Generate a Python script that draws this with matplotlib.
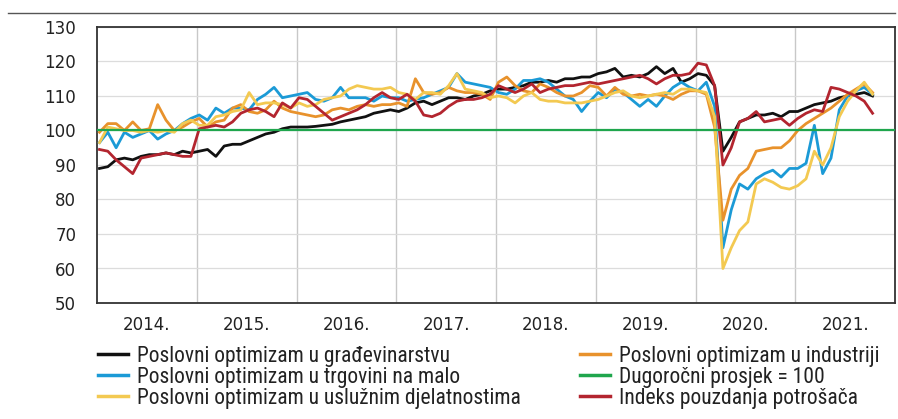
import numpy as np
import matplotlib
matplotlib.use("Agg")
import matplotlib.pyplot as plt
from matplotlib.lines import Line2D

plt.rcParams["font.family"] = ["DejaVu Sans"]

# ---------------- data (monthly, Jan 2014 - Oct 2021) ----------------
start_year = 2014
years = [2014, 2015, 2016, 2017, 2018, 2019, 2020, 2021]
year_labels = ["2014.", "2015.", "2016.", "2017.", "2018.", "2019.", "2020.", "2021."]

gradevinarstvo = [
    89, 89.5, 91.5, 92, 91.5, 92.5, 93, 93, 93.5, 93, 94, 93.5,
    94, 94.5, 92.5, 95.5, 96, 96, 97, 98, 99, 99.5, 100.5, 101,
    101, 101, 101.2, 101.5, 101.8, 102.5, 103, 103.5, 104, 105, 105.5, 106,
    105.5, 106.5, 108, 108.5, 107.5, 108.5, 109.5, 109.5, 109, 110, 110.5, 111.5,
    112, 112, 112.5, 113, 114, 114, 114.5, 114, 115, 115, 115.5, 115.5,
    116.5, 117, 118, 115.5, 116, 115.5, 116.5, 118.5, 116.5, 118, 114, 115,
    116.5, 116, 113, 94, 98, 102.5, 103.5, 104.5, 104.5, 105, 104, 105.5,
    105.5, 106.5, 107.5, 108, 108.5, 109.5, 110, 110.5, 111, 110,
]
industrija = [
    99.5, 102, 102, 100, 102.5, 100, 100.5, 107.5, 103, 100, 101, 102.5,
    103.5, 101, 102.5, 103, 106.5, 107.5, 105.5, 105, 106, 108.5, 106.5, 105.5,
    105, 104.5, 104, 104.5, 106, 106.5, 106, 107, 107.5, 107, 107.5, 107.5,
    108, 107, 115, 111, 110.5, 111, 112.5, 111.5, 111, 111, 110.5, 109,
    114, 115.5, 113, 111.5, 111, 113.5, 112.5, 111, 110, 110, 111, 113,
    112.5, 110, 112.5, 110.5, 110, 110.5, 110, 110.5, 110, 109, 110.5, 111.5,
    111.5, 110.5, 101, 74, 83, 87, 89, 94, 94.5, 95, 95, 97,
    100, 102, 103.5, 105, 106.5, 108.5, 110.5, 112, 113.5, 111,
]
trgovina = [
    96.5, 99.5, 95, 99.5, 98, 99, 100, 97.5, 99, 100, 102, 103.5,
    104.5, 103, 106.5, 105, 106.5, 106.5, 106, 109, 110.5, 112.5, 109.5, 110,
    110.5, 111, 109, 108.5, 109.5, 112.5, 109.5, 109.5, 109.5, 108.5, 110, 109.5,
    109.5, 108.5, 109, 109.5, 110.5, 111.5, 112.5, 116.5, 114, 113.5, 113, 112.5,
    111, 110.5, 112, 114.5, 114.5, 115, 114, 112, 110, 109, 105.5, 108.5,
    111, 109.5, 112, 111, 109, 107, 109, 107, 110, 112.5, 114, 112.5,
    111.5, 114, 107, 66, 77, 84.5, 83, 86, 87.5, 88.5, 86.5, 89,
    89, 90.5, 101.5, 87.5, 92, 106, 110, 111.5, 112.5, 110.5,
]
usluge = [
    96.5, 101, 100.5, 100, 100, 99.5, 100, 99.5, 100, 99.5, 102, 103,
    101.5, 101.5, 104, 104.5, 105.5, 106, 111, 107.5, 108, 108, 107.5, 106.5,
    108, 107, 107.5, 109, 109.5, 110, 112, 113, 112.5, 112, 112, 112.5,
    111, 110.5, 109, 111, 111, 110.5, 113, 116.5, 112, 111.5, 111, 109.5,
    110, 109.5, 108, 110, 111, 109, 108.5, 108.5, 108, 108, 108, 108.5,
    109, 110, 111, 111.5, 110, 109.5, 110, 110.5, 111, 110.5, 112, 112,
    111.5, 111, 104, 60, 66, 71, 73.5, 84.5, 86, 85, 83.5, 83,
    84, 86, 94, 90, 95, 104, 108.5, 111.5, 114, 110.5,
]
potrosaci = [
    94.5, 94, 91.5, 89.5, 87.5, 92, 92.5, 93, 93.5, 93, 92.5, 92.5,
    100.5, 101, 101.5, 101, 102.5, 105, 106, 106.5, 105.5, 104, 108, 106.5,
    109.5, 109, 107, 105, 103, 104, 105, 106, 107.5, 109.5, 111, 109.5,
    109, 110.5, 108.5, 104.5, 104, 105, 107, 108.5, 109, 109, 109.5, 110.5,
    113, 112, 111, 112, 113.5, 111, 112, 112.5, 113, 113, 113.5, 114,
    113.5, 114, 114.5, 115, 115.5, 116, 115, 113.5, 115, 116, 116, 116.5,
    119.5, 119, 113, 90, 95, 102.5, 103.5, 105.5, 102.5, 103, 103.5, 101.5,
    103.5, 105, 106, 105.5, 112.5, 112, 111, 110, 108.5, 105,
]
prosjek = 100

labels = [
    "Poslovni optimizam u građevinarstvu",
    "Poslovni optimizam u trgovini na malo",
    "Poslovni optimizam u uslužnim djelatnostima",
    "Poslovni optimizam u industriji",
    "Dugoročni prosjek = 100",
    "Indeks pouzdanja potrošača",
]

# ---------------- styling ----------------
C_BLACK = "#111111"
C_BLUE = "#1b9ad6"
C_YELLOW = "#f3c951"
C_ORANGE = "#e8922c"
C_GREEN = "#1fa64d"
C_RED = "#b3252f"

n = len(gradevinarstvo)
x = start_year + (np.arange(n) + 0.3) / 12.0

fig = plt.figure(figsize=(8.98, 4.19), dpi=100)
W, H = 898, 419
ax = fig.add_axes([97 / W, 1 - 303 / H, (895 - 97) / W, (303 - 27) / H])

lw = 2.0
ax.plot(x, gradevinarstvo, color=C_BLACK, lw=lw, zorder=3)
ax.plot(x, trgovina, color=C_BLUE, lw=lw, zorder=4)
ax.plot(x, industrija, color=C_ORANGE, lw=lw, zorder=5)
ax.plot(x, usluge, color=C_YELLOW, lw=lw, zorder=6)
ax.plot(x, potrosaci, color=C_RED, lw=lw, zorder=7)
ax.axhline(prosjek, color=C_GREEN, lw=1.6, zorder=8)

ax.set_xlim(years[0], years[-1] + 1)
ax.set_ylim(50, 130)
ax.set_yticks(np.arange(50, 131, 10))
ax.set_xticks(years[1:], minor=False)
ax.set_xticks([y + 0.5 for y in years], minor=True)
ax.set_xticklabels([], minor=False)
ax.set_xticklabels(year_labels, minor=True)
ax.tick_params(axis="x", which="both", length=0)
ax.tick_params(axis="x", which="minor", pad=9, labelsize=12, labelcolor="#222222",
               labelfontfamily="DejaVu Sans")
ax.tick_params(axis="y", length=0, pad=15, labelsize=12, labelcolor="#222222",
               labelfontfamily="DejaVu Sans")

ax.grid(axis="y", color="#dcdcdc", lw=0.9, zorder=0)
ax.grid(axis="x", which="major", color="#c8c8c8", lw=1.0, zorder=0)
ax.set_axisbelow(True)
for s in ax.spines.values():
    s.set_color("#333333")
    s.set_linewidth(1.3)

# top rule
fig.add_artist(Line2D([8 / W, 895 / W], [1 - 13 / H, 1 - 13 / H], color="#555555", lw=1.0))

# legends (two columns)
leg_font = {"family": ["Roboto Condensed", "Liberation Sans Narrow", "Liberation Sans"],
            "size": 15.5}
h1 = [Line2D([], [], color=C_BLACK, lw=2.5),
      Line2D([], [], color=C_BLUE, lw=2.5),
      Line2D([], [], color=C_YELLOW, lw=2.5)]
h2 = [Line2D([], [], color=C_ORANGE, lw=2.5),
      Line2D([], [], color=C_GREEN, lw=2.5),
      Line2D([], [], color=C_RED, lw=2.5)]
common = dict(frameon=False, borderpad=0, borderaxespad=0, handlelength=1.4,
              handletextpad=0.4, labelspacing=0.0, prop=leg_font, loc="upper left")
l1 = fig.legend(h1, labels[:3], bbox_to_anchor=(98 / W, 1 - 346 / H), **common)
l2 = fig.legend(h2, labels[3:], bbox_to_anchor=(580 / W, 1 - 346 / H), **common)
for lg in (l1, l2):
    for t in lg.get_texts():
        t.set_color("#222222")

fig.savefig("out.png", dpi=100)
